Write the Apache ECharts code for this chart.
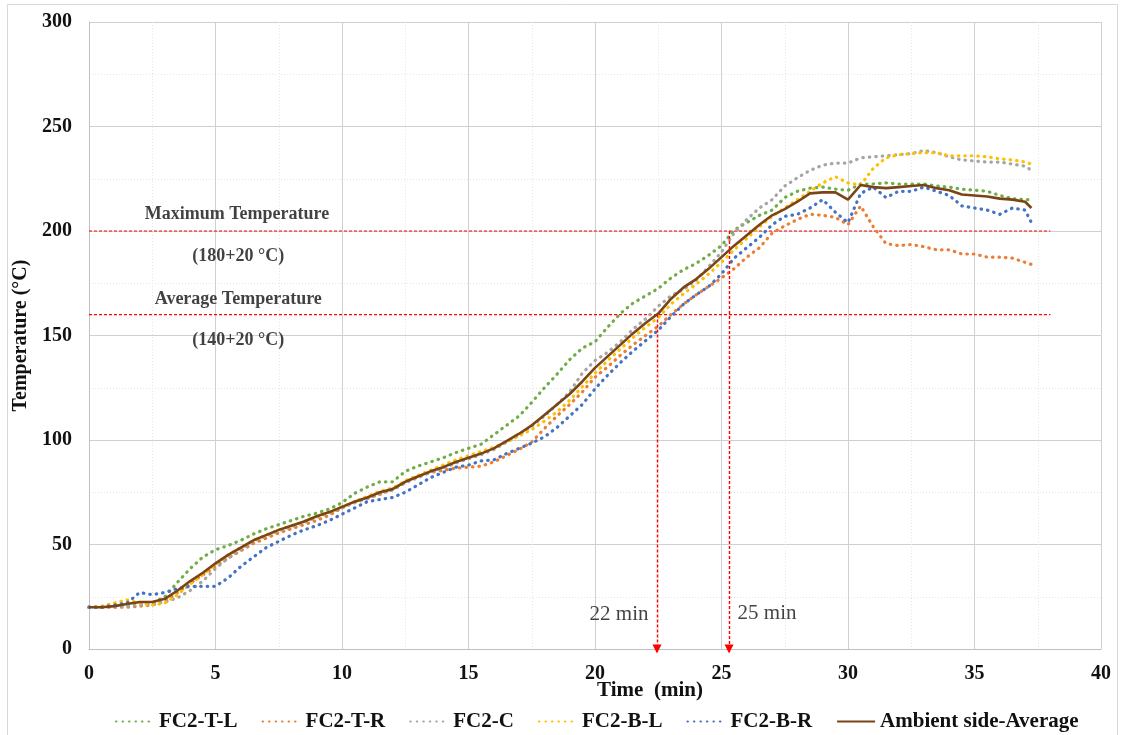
<!DOCTYPE html>
<html>
<head>
<meta charset="utf-8">
<script src="https://cdn.jsdelivr.net/npm/echarts@6/dist/echarts.min.js"></script>
<style>
  html, body { margin: 0; padding: 0; background: #ffffff; }
  #chart { width: 1124px; height: 735px; }
</style>
</head>
<body>
<div id="chart"></div>
<script>
// Time (min) of each reading
const times = [0,0.5,1,1.5,2,2.5,3,3.5,4,4.5,5,5.5,6,6.5,7,7.5,8,8.5,9,9.5,
  10,10.5,11,11.5,12,12.5,13,13.5,14,14.5,15,15.5,16,16.5,17,17.5,18,18.5,19,19.5,
  20,20.5,21,21.5,22,22.5,23,23.5,24,24.5,25,25.5,26,26.5,27,27.5,28,28.5,29,29.5,
  30,30.5,31,31.5,32,32.5,33,33.5,34,34.5,35,35.5,36,36.5,37,37.25];

// Thermocouple readings (°C)
const fc2TL = [20,20,21,21.5,22,22,25,32,38.5,44,47.5,49.5,52,55,57.5,59.5,61.5,63.5,65,67,
  70,74.5,77.5,80,80,85,87.5,89.5,91.5,94,96,98,102.5,107,111.5,118,125,131.5,138.5,144,
  147,154,160.5,165.5,169,172.5,177.5,181.5,184.5,188.5,193,200.5,204,207.5,210,216,219,220.5,221,220,
  219.5,222.5,222.5,223,222.5,222.5,222.5,221.5,221,220,219.5,219,217,215.5,215,215];
const fc2TR = [20,20,20,20,20.5,21,23,27,31.5,35.5,39.5,43.5,47,50.5,53,55.5,57.5,59.5,61.5,64,
  67.5,70.5,72,74,76.5,80,82.5,84.5,85.5,86.5,87,87.5,89.5,92.5,95.5,99,105.5,111.5,117,123,
  130,135,140.5,145.5,150,154.5,160,165,169.5,173.5,177.5,182,187.5,192,199,202.5,205.5,208,207.5,206.5,
  203,212,202,194,193,193.5,192.5,191,191,189,189,187.5,187.5,187,185,184];
const fc2C = [20,20,20,20.5,21,21.5,22.5,24.5,28,32.5,38.5,43.5,47.5,51.5,54,56.5,58.5,60.5,63,65,
  67.5,70,72,74.5,76,79.5,82,84.5,86.5,89,91,93,95.5,99,102.5,106.5,111.5,117,123,132,
  138,142,147,153,158,164,169,172,176.5,183,190,199,205.5,211,215,221.5,225.5,229,231.5,232.5,
  232.5,235,235.5,236,236.5,237,238.5,237.5,235.5,234,233.5,233,233,232,231,229];
const fc2BL = [20,20.5,22,23.5,22,21,22,26,31,35.5,40.5,45,48.5,52,54.5,57,59,61,63.5,65.5,
  68,70.5,73,75.5,77,80.5,83,85.5,88,90.5,92.5,94.5,96.5,99,102,105,109,113.5,119,125.5,
  132,138,143.5,149,154,158.5,165,170,174.5,179.5,185,191,196.5,202,207,211,215,219,223,226,
  223,222,230,235,236.5,237,237.5,237.5,236,236,236,235.5,234.5,234,233,232];
const fc2BR = [20,20,21,22,27,26,27,29,30,30,30,34,39.5,44,48.5,51.5,54.5,57,59,61.5,
  64.5,67.5,70.5,71.5,72.5,75,78.5,82,84.5,87,88,90,90.5,93.5,96,98.5,101.5,106,111.5,117,
  124.5,131,137,142.5,147.5,152.5,159,165,169.5,173.5,179.5,187,192,197,203,207,208,211,215,209,
  204,218,221,216,219,219,221,219,217,212,211,210,208,211,210,204];
const ambientAvg = [20,20,20.5,21.5,22.5,22.5,24,28,32.5,36.5,41,45,48.5,52,54.5,57,59,61,63.5,65.5,
  68,70.5,72.5,75,76.5,80,82.5,85,87,89.5,91.5,93.5,96,99.5,103,107,112,117,122,128,
  134.5,140,145.5,151,156,160.5,167.5,173,177,182,187.5,193,198,203,207.5,210.5,214,218,218.5,218.5,
  215,222,221,220.5,221,221.5,222,220.5,219.5,217.5,217,216.5,215.5,215,214,211];

const seriesNames = ['FC2-T-L', 'FC2-T-R', 'FC2-C', 'FC2-B-L', 'FC2-B-R', 'Ambient side-Average'];
const seriesValues = [fc2TL, fc2TR, fc2C, fc2BL, fc2BR, ambientAvg];
const seriesColors = ['#70AD47', '#ED7D31', '#A5A5A5', '#FFC000', '#4472C4', '#7A4416'];

// Temperature limits and the times they are reached
const limitMax = 200;
const limitAvg = 160;
const limitEnd = 38;
const timeAvgReached = 22.45;
const timeMaxReached = 25.3;

// Text notes: [time, temperature, text, bold]
const notes = [
  [5.85, 208, 'Maximum Temperature', true],
  [5.9, 188, '(180+20 °C)', true],
  [5.9, 167.5, 'Average Temperature', true],
  [5.9, 147.5, '(140+20 °C)', true],
  [20.95, 16.5, '22 min', false],
  [26.8, 17, '25 min', false]
];

const xTicks = { min: 0, max: 40, step: 5 };
const yTicks = { min: 0, max: 300, step: 50 };

const serif = '"Liberation Serif", "Times New Roman", serif';
const chart = echarts.init(document.getElementById('chart'));

const dataSeries = seriesNames.map((name, k) => {
  const isAvg = k === seriesNames.length - 1;
  return {
    name: name,
    type: 'line',
    data: times.map((t, i) => [t, seriesValues[k][i]]),
    showSymbol: false,
    symbol: 'none',
    smooth: false,
    z: isAvg ? 5 : 3,
    color: seriesColors[k],
    lineStyle: isAvg
      ? { color: seriesColors[k], width: 2.6 }
      : { color: seriesColors[k], width: 3.2, type: [0.5, 6], cap: 'round' },
    emphasis: { disabled: true },
    animation: false
  };
});

const redDash = { color: '#FF0000', width: 1.2, type: [3, 2] };

const limitSeries = [
  {
    name: 'limitMax', type: 'line', symbol: 'none', silent: true, z: 2,
    data: [[0, limitMax], [limitEnd, limitMax]],
    lineStyle: redDash, animation: false
  },
  {
    name: 'limitAvg', type: 'line', symbol: 'none', silent: true, z: 2,
    data: [[0, limitAvg], [limitEnd, limitAvg]],
    lineStyle: redDash, animation: false
  },
  {
    name: 'arrows', type: 'line', symbol: 'none', silent: true, z: 2,
    data: [],
    lineStyle: { opacity: 0 },
    markLine: {
      silent: true,
      symbol: ['none', 'triangle'],
      symbolSize: [9, 9],
      label: { show: false },
      lineStyle: { color: '#FF0000', width: 1.4, type: [3, 2] },
      data: [
        [{ coord: [timeAvgReached, limitAvg] }, { coord: [timeAvgReached, 0] }],
        [{ coord: [timeMaxReached, limitMax] }, { coord: [timeMaxReached, 0] }]
      ],
      animation: false
    },
    animation: false
  },
  {
    name: 'notes', type: 'scatter', symbolSize: 0, silent: true, z: 6,
    data: notes.map(n => ({
      value: [n[0], n[1]],
      label: {
        show: true, position: 'inside', formatter: n[2],
        fontFamily: serif, fontSize: n[3] ? 18 : 21,
        fontWeight: n[3] ? 'bold' : 'normal', color: '#111111'
      }
    })),
    animation: false
  }
];

chart.setOption({
  backgroundColor: '#ffffff',
  animation: false,
  grid: { left: 89, right: 23, top: 22, bottom: 86, containLabel: false },
  legend: {
    data: seriesNames,
    top: 706,
    left: 110,
    itemWidth: 38,
    itemHeight: 4,
    itemGap: 24,
    itemStyle: { opacity: 0 },
    textStyle: { fontFamily: serif, fontWeight: 'bold', fontSize: 21, color: '#111111' }
  },
  xAxis: {
    type: 'value',
    min: xTicks.min, max: xTicks.max, interval: xTicks.step,
    axisLine: { show: true, lineStyle: { color: '#bfbfbf', width: 1 } },
    axisTick: { show: false },
    axisLabel: { fontFamily: serif, fontWeight: 'bold', fontSize: 20, color: '#111111', margin: 15 },
    splitLine: { show: true, lineStyle: { color: '#d0d0d0', width: 1 } },
    minorTick: { show: false, splitNumber: 2 },
    minorSplitLine: { show: true, lineStyle: { color: '#e6e6e6', width: 1, type: [1, 2] } }
  },
  yAxis: {
    type: 'value',
    min: yTicks.min, max: yTicks.max, interval: yTicks.step,
    name: 'Temperature (°C)',
    nameLocation: 'middle',
    nameGap: 58,
    nameRotate: 90,
    nameTextStyle: { fontFamily: serif, fontWeight: 'bold', fontSize: 20, color: '#111111' },
    axisLine: { show: true, lineStyle: { color: '#bfbfbf', width: 1 } },
    axisTick: { show: false },
    axisLabel: { fontFamily: serif, fontWeight: 'bold', fontSize: 20, color: '#111111', margin: 17 },
    splitLine: { show: true, lineStyle: { color: '#d0d0d0', width: 1 } },
    minorTick: { show: false, splitNumber: 2 },
    minorSplitLine: { show: true, lineStyle: { color: '#e6e6e6', width: 1, type: [1, 2] } }
  },
  graphic: [
    {
      type: 'rect', silent: true, z: -1,
      shape: { x: 7.5, y: 4.5, width: 1110, height: 740 },
      style: { fill: 'none', stroke: '#d9d9d9', lineWidth: 1 }
    },
    {
      // x-axis title, set under the 20–25 min span
      type: 'text', silent: true,
      x: 650, y: 680,
      style: {
        text: 'Time  (min)',
        font: 'bold 21px ' + serif,
        fill: '#111111',
        textAlign: 'center',
        textVerticalAlign: 'top'
      }
    }
  ],
  series: dataSeries.concat(limitSeries)
});
</script>
</body>
</html>
